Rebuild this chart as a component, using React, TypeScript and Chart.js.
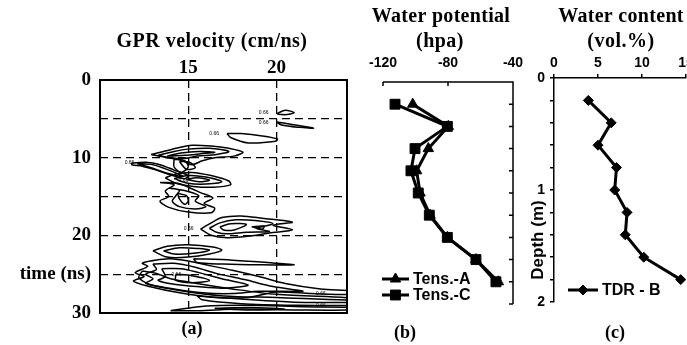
import React, { useEffect, useRef } from 'react';
import { Chart, registerables } from 'chart.js';

Chart.register(...registerables);

const W = 687;
const H = 345;

// ---------- Panel (a): GPR velocity contours ----------
const velocityTicks = [15, 20];
const timeTicks = [0, 5, 10, 15, 20, 25, 30];
const timeLabels = ['0', '', '10', '', '20', 'time (ns)', '30'];

// contour loops: [velocity (cm/ns), time (ns)]
const loopTop1 = [[20.05, 4.3], [20.5, 3.9], [21.0, 4.2], [20.6, 4.45], [20.1, 4.4]];
const loopTop2 = [[20.0, 5.4], [20.8, 5.7], [22.1, 6.2], [21.3, 6.1], [20.3, 5.8]];
const loopTop3 = [[17.2, 6.9], [18.0, 6.9], [19.2, 7.2], [20.05, 7.6], [19.95, 7.9], [18.4, 8.1], [17.4, 7.4]];
const loopA1 = [[12.9, 9.6], [13.6, 9.2], [14.5, 8.7], [15.2, 8.4], [16.3, 8.5], [17.3, 8.8], [18.1, 9.3], [17.6, 9.8], [16.5, 10.0], [15.8, 10.4], [15.2, 10.9], [14.6, 10.3], [13.8, 10.0]];
const loopA2 = [[13.3, 9.7], [14.2, 9.2], [15.0, 8.9], [16.2, 8.8], [17.3, 9.2], [16.6, 9.6], [15.5, 9.8], [14.8, 10.1], [14.0, 10.0]];
const loopA3 = [[13.8, 9.8], [14.6, 9.4], [15.6, 9.2], [16.5, 9.3], [15.7, 9.5], [14.8, 9.7]];
const loopA4 = [[14.2, 10.2], [14.8, 10.4], [15.0, 11.2], [14.6, 11.9], [14.2, 11.2]];
const loopA5 = [[14.5, 10.5], [15.1, 10.6], [15.4, 11.3], [14.9, 11.5]];
const loopB1 = [[11.8, 10.7], [12.6, 10.6], [13.4, 10.9], [14.2, 11.6], [15.0, 12.3], [14.8, 12.7], [14.0, 12.2], [13.2, 11.6], [12.4, 11.1], [11.8, 10.9]];
const loopB2 = [[12.1, 10.75], [13.0, 10.9], [13.9, 11.6], [14.7, 12.4], [13.8, 12.0], [12.9, 11.3]];
const loopC1 = [[13.7, 12.6], [14.3, 12.1], [15.2, 11.9], [16.3, 12.3], [17.3, 13.0], [17.4, 13.5], [16.4, 13.8], [15.3, 13.7], [14.3, 13.3]];
const loopC2 = [[14.2, 12.7], [15.0, 12.3], [16.0, 12.5], [16.9, 13.1], [16.0, 13.4], [15.0, 13.3]];
const loopC3 = [[14.9, 12.8], [15.5, 12.6], [16.2, 12.9], [15.6, 13.1]];
const loopD1 = [[13.4, 13.2], [14.2, 13.5], [13.7, 14.3], [13.9, 15.0], [13.4, 15.6], [13.9, 16.4], [15.0, 17.0], [16.3, 17.1], [16.5, 16.5], [15.9, 15.9], [16.4, 15.2], [15.7, 14.5], [15.1, 13.9], [14.4, 13.3]];
const loopD2 = [[13.9, 13.9], [14.5, 14.2], [14.3, 14.9], [14.1, 15.6], [14.5, 16.3], [15.4, 16.6], [16.0, 16.3], [15.4, 15.6], [15.6, 14.9], [14.9, 14.3]];
const loopD3 = [[14.4, 14.6], [14.9, 14.9], [15.0, 15.6], [14.8, 16.0], [14.5, 15.3]];
const loopE1 = [[15.7, 19.2], [16.3, 18.4], [16.9, 17.7], [18.0, 17.5], [19.2, 17.8], [20.9, 18.3], [19.8, 18.7], [20.9, 19.3], [19.6, 19.7], [18.5, 20.1], [17.2, 20.3], [16.3, 20.0]];
const loopE2 = [[16.2, 19.1], [16.8, 18.4], [17.7, 18.0], [18.8, 18.1], [19.8, 18.5], [18.9, 19.1], [19.6, 19.5], [18.3, 19.6], [17.2, 19.8], [16.6, 19.6]];
const loopE3 = [[16.8, 18.9], [17.4, 18.5], [18.3, 18.6], [17.6, 19.3], [17.0, 19.3]];
const loopE4 = [[18.6, 18.9], [19.3, 18.8], [19.2, 19.2]];
const loopF1 = [[13.0, 22.0], [13.8, 21.4], [15.0, 21.2], [16.4, 21.5], [16.9, 21.9], [16.2, 22.4], [15.0, 22.8], [13.8, 22.8]];
const loopF2 = [[13.6, 22.0], [14.5, 21.6], [15.6, 21.7], [16.2, 21.9], [15.3, 22.3], [14.2, 22.4]];
const loopG0 = [[15.3, 23.0], [17.5, 23.2], [19.5, 23.5], [21.0, 23.8], [19.0, 23.8], [17.0, 23.7], [15.5, 23.5]];
const loopG1 = [[13.1, 23.2], [14.0, 23.0], [15.0, 23.3], [16.2, 23.9], [17.5, 24.5], [19.0, 25.3], [20.5, 26.2], [22.5, 26.9], [24.5, 27.2], [24.5, 27.6], [22.0, 27.5], [20.0, 27.3], [18.4, 28.0], [16.5, 28.0], [14.5, 27.4], [12.8, 26.6], [11.9, 25.9], [12.5, 25.3], [12.0, 24.8], [12.7, 24.0], [12.4, 23.6]];
const loopG2 = [[13.0, 23.7], [14.2, 23.6], [15.4, 24.1], [16.6, 24.9], [18.2, 25.7], [19.8, 26.6], [21.5, 27.2], [19.0, 27.2], [17.5, 27.5], [15.8, 27.4], [14.2, 26.9], [12.6, 26.2], [13.0, 25.6], [12.6, 25.0], [13.2, 24.4]];
const loopG3 = [[13.5, 24.3], [14.6, 24.3], [15.6, 24.8], [16.9, 25.6], [18.4, 26.4], [17.0, 26.8], [15.5, 26.6], [14.2, 26.3], [13.3, 25.8], [13.7, 25.3]];
const loopG4 = [[14.3, 25.0], [15.2, 25.2], [16.2, 25.8], [15.2, 26.1], [14.3, 25.8]];
const loopG5 = [[12.4, 24.6], [13.2, 24.9], [14.0, 25.6], [15.5, 26.2], [17.5, 26.9], [20.0, 27.6], [24.5, 28.1], [24.5, 28.35], [20.0, 28.0], [17.0, 27.8], [14.5, 27.1], [12.8, 26.3], [12.2, 25.4]];
const loopH1 = [[15.5, 27.8], [18.0, 28.2], [21.0, 28.6], [24.5, 28.7], [24.5, 29.0], [21.0, 29.0], [18.0, 28.8], [15.8, 28.3]];
const loopH2 = [[14.0, 29.7], [16.0, 29.1], [18.5, 29.0], [21.5, 29.2], [24.5, 29.3], [24.5, 29.6], [21.0, 29.6], [18.0, 29.5], [15.5, 29.7]];
const loopH3 = [[16.5, 29.4], [18.5, 29.3], [20.5, 29.5], [18.5, 29.6]];

const contourLoops = [
  loopTop1, loopTop2, loopTop3, loopA1, loopA2, loopA3, loopA4, loopA5, loopB1, loopB2,
  loopC1, loopC2, loopC3, loopD1, loopD2, loopD3, loopE1, loopE2, loopE3, loopE4,
  loopF1, loopF2, loopG0, loopG1, loopG2, loopG3, loopG4, loopG5, loopH1, loopH2, loopH3,
];
const contourLevelText = '0.66';
const contourLabelSpots = [[19.55, 4.25], [19.55, 5.5], [16.75, 6.95], [11.95, 10.6], [15.3, 19.1], [15.0, 12.95], [14.6, 25.0], [22.8, 27.55], [22.8, 29.05]];

// ---------- Panel (b): water potential ----------
const depthSteps = [0.2, 0.4, 0.6, 0.8, 1.0, 1.2, 1.4, 1.6, 1.8];
const tensA = [-101.7, -79.8, -92.1, -99.3, -97.2, -91.0, -80.4, -62.8, -49.0];
const tensC = [-112.6, -80.4, -100.3, -102.8, -98.3, -91.5, -80.4, -62.8, -50.5];
const potentialTicks = [-120, -80, -40];

// ---------- Panel (c): water content ----------
const tdrB = [3.9, 6.5, 5.0, 7.1, 6.9, 8.3, 8.1, 10.2, 14.4];
const contentTicks = [0, 5, 10, 15];
const depthTicks = [0, 0.2, 0.4, 0.6, 0.8, 1.0, 1.2, 1.4, 1.6, 1.8, 2.0];
const depthLabels = ['0', '', '', '', '', '1', '', '', '', '', '2'];

const SERIF = "'Liberation Serif', 'Times New Roman', serif";
const SANS = "'Liberation Sans', Arial, sans-serif";

type TextItem = { text: string; x: number; y: number; font: string; align?: CanvasTextAlign; rotate?: number; spacing?: string };

function textPlugin(id: string, items: TextItem[]) {
  return {
    id,
    afterDraw(chart: any) {
      const ctx = chart.ctx;
      items.forEach((it) => {
        ctx.save();
        ctx.font = it.font;
        (ctx as any).letterSpacing = it.spacing || '0px';
        ctx.fillStyle = '#000';
        ctx.textAlign = it.align || 'center';
        ctx.textBaseline = 'middle';
        ctx.translate(it.x, it.y);
        if (it.rotate) ctx.rotate(it.rotate);
        ctx.fillText(it.text, 0, 0);
        ctx.restore();
      });
    },
  };
}

const boxPlugin = {
  id: 'boxFrame',
  afterDraw(chart: any) {
    const { ctx, chartArea: a } = chart;
    ctx.save();
    ctx.strokeStyle = '#000';
    ctx.lineWidth = 2;
    ctx.setLineDash([]);
    ctx.strokeRect(a.left, a.top, a.right - a.left, a.bottom - a.top);
    ctx.restore();
  },
};

const contourLabelPlugin = {
  id: 'contourLabels',
  afterDatasetsDraw(chart: any) {
    const { ctx, scales } = chart;
    ctx.save();
    ctx.font = `5px ${SANS}`;
    ctx.fillStyle = '#000';
    ctx.textAlign = 'right';
    ctx.textBaseline = 'middle';
    contourLabelSpots.forEach(([v, t]) => {
      ctx.fillText(contourLevelText, scales.x.getPixelForValue(v), scales.y.getPixelForValue(t));
    });
    ctx.restore();
  },
};

function drawMarker(ctx: CanvasRenderingContext2D, style: string, x: number, y: number, r: number) {
  ctx.beginPath();
  if (style === 'triangle') {
    ctx.moveTo(x, y - r);
    ctx.lineTo(x + r * 0.866, y + r * 0.5);
    ctx.lineTo(x - r * 0.866, y + r * 0.5);
    ctx.closePath();
  } else if (style === 'rect') {
    const s = r * Math.SQRT1_2;
    ctx.rect(x - s, y - s, 2 * s, 2 * s);
  } else {
    ctx.moveTo(x, y - r);
    ctx.lineTo(x + r, y);
    ctx.lineTo(x, y + r);
    ctx.lineTo(x - r, y);
    ctx.closePath();
  }
  ctx.fill();
  ctx.stroke();
}

function legendPlugin(id: string, x0: number, x1: number, textX: number, rows: number[]) {
  return {
    id,
    afterDraw(chart: any) {
      const ctx = chart.ctx;
      chart.data.datasets.forEach((ds: any, i: number) => {
        const y = rows[i];
        ctx.save();
        ctx.strokeStyle = '#000';
        ctx.fillStyle = '#000';
        ctx.lineWidth = 3;
        ctx.beginPath();
        ctx.moveTo(x0, y);
        ctx.lineTo(x1, y);
        ctx.stroke();
        ctx.lineWidth = 1;
        drawMarker(ctx, ds.pointStyle, (x0 + x1) / 2, y, ds.pointRadius);
        ctx.font = `bold 16px ${SANS}`;
        ctx.textAlign = 'left';
        ctx.textBaseline = 'middle';
        ctx.fillText(ds.label, textX, y + 1);
        ctx.restore();
      });
    },
  };
}

const potentialAxesPlugin = {
  id: 'potentialAxes',
  afterDraw(chart: any) {
    const { ctx, chartArea: a, scales } = chart;
    ctx.save();
    ctx.strokeStyle = '#000';
    ctx.lineWidth = 1.5;
    ctx.beginPath();
    ctx.moveTo(a.left, a.top);
    ctx.lineTo(a.right, a.top);
    ctx.lineTo(a.right, a.bottom);
    potentialTicks.forEach((v) => {
      const x = scales.x.getPixelForValue(v);
      ctx.moveTo(x, a.top);
      ctx.lineTo(x, a.top + 4);
    });
    depthTicks.forEach((d) => {
      const y = scales.y.getPixelForValue(d);
      ctx.moveTo(a.right, y);
      ctx.lineTo(a.right - 4, y);
    });
    ctx.stroke();
    ctx.restore();
  },
};

const dashedGrid = {
  color: '#000',
  lineWidth: 1.3,
  drawTicks: false,
};

// plot-area edges (page pixels)
const A_LEFT = 100, A_RIGHT = 347, A_TOP = 80, A_BOTTOM = 313;
const B_LEFT = 383, B_RIGHT = 513, B_TOP = 82, B_BOTTOM = 304;
const C_LEFT = 554, C_RIGHT = 686, C_TOP = 78, C_BOTTOM = 302;

const fitTop = (h: number) => (s: any) => { s.height = h; s.paddingLeft = 0; s.paddingRight = 0; };
const fitLeft = (w: number) => (s: any) => { s.width = w; s.paddingTop = 0; s.paddingBottom = 0; };

export default function App() {
  const refA = useRef<HTMLCanvasElement>(null);
  const refB = useRef<HTMLCanvasElement>(null);
  const refC = useRef<HTMLCanvasElement>(null);

  useEffect(() => {
    const common = {
      responsive: false,
      animation: false as const,
      devicePixelRatio: 1,
      events: [] as any[],
    };
    const sansTick = { family: SANS, size: 14, weight: 'bold' };
    const serifTick = { family: SERIF, size: 19, weight: 'bold' };

    const chartA = new Chart(refA.current as HTMLCanvasElement, {
      type: 'scatter',
      data: {
        datasets: contourLoops.map((loop) => ({
          data: [...loop, loop[0]].map(([x, y]) => ({ x, y })),
          showLine: true,
          borderColor: '#000',
          borderWidth: 1.5,
          pointRadius: 0,
          tension: 0.3,
          fill: false,
        })),
      },
      options: {
        ...common,
        layout: { autoPadding: false, padding: { left: 0, top: 0, right: W - A_RIGHT, bottom: H - A_BOTTOM } },
        plugins: { legend: { display: false }, tooltip: { enabled: false } },
        scales: {
          x: {
            type: 'linear',
            position: 'top',
            min: 10,
            max: 24,
            afterBuildTicks: (s: any) => { s.ticks = velocityTicks.map((value) => ({ value })); },
            afterFit: fitTop(A_TOP),
            ticks: { color: '#000', font: serifTick, padding: 1, maxRotation: 0, autoSkip: false },
            grid: dashedGrid,
            border: { display: false, dash: [8, 5] },
          },
          y: {
            type: 'linear',
            position: 'left',
            reverse: true,
            min: 0,
            max: 30,
            afterBuildTicks: (s: any) => { s.ticks = timeTicks.map((value) => ({ value })); },
            afterFit: fitLeft(A_LEFT),
            ticks: {
              color: '#000',
              font: serifTick,
              padding: 9,
              autoSkip: false,
              callback: (v: any) => timeLabels[timeTicks.indexOf(Number(v))] ?? '',
            },
            grid: dashedGrid,
            border: { display: false, dash: [8, 5] },
          },
        },
      } as any,
      plugins: [
        boxPlugin,
        contourLabelPlugin,
        textPlugin('textsA', [
          { text: 'GPR velocity (cm/ns)', x: 212, y: 42, font: `bold 20px ${SERIF}`, spacing: '0.5px' },
          { text: '(a)', x: 192, y: 329, font: `bold 18px ${SERIF}` },
        ]),
      ],
    });

    const chartB = new Chart(refB.current as HTMLCanvasElement, {
      type: 'scatter',
      data: {
        datasets: [
          {
            label: 'Tens.-A',
            data: depthSteps.map((d, i) => ({ x: tensA[i], y: d })),
            showLine: true,
            borderColor: '#000',
            backgroundColor: '#000',
            borderWidth: 3,
            pointStyle: 'triangle',
            pointRadius: 6,
            pointBorderWidth: 1,
          },
          {
            label: 'Tens.-C',
            data: depthSteps.map((d, i) => ({ x: tensC[i], y: d })),
            showLine: true,
            borderColor: '#000',
            backgroundColor: '#000',
            borderWidth: 3,
            pointStyle: 'rect',
            pointRadius: 7,
            pointBorderWidth: 1,
          },
        ],
      },
      options: {
        ...common,
        layout: { autoPadding: false, padding: { left: B_LEFT, top: 0, right: W - B_RIGHT, bottom: H - B_BOTTOM } },
        plugins: { legend: { display: false }, tooltip: { enabled: false } },
        scales: {
          x: {
            type: 'linear',
            position: 'top',
            min: -120,
            max: -40,
            afterBuildTicks: (s: any) => { s.ticks = potentialTicks.map((value) => ({ value })); },
            afterFit: fitTop(B_TOP),
            ticks: { color: '#000', font: sansTick, padding: 10, maxRotation: 0, autoSkip: false },
            grid: { display: false, drawTicks: false },
            border: { display: false },
          },
          y: { type: 'linear', display: false, reverse: true, min: 0, max: 2 },
        },
      } as any,
      plugins: [
        potentialAxesPlugin,
        legendPlugin('legendB', 382, 409, 413, [279, 295]),
        textPlugin('textsB', [
          { text: 'Water potential', x: 441, y: 17, font: `bold 20px ${SERIF}`, spacing: '0.3px' },
          { text: '(hpa)', x: 440, y: 42, font: `bold 20px ${SERIF}`, spacing: '0.5px' },
          { text: '(b)', x: 405, y: 333, font: `bold 18px ${SERIF}` },
        ]),
      ],
    });

    const chartC = new Chart(refC.current as HTMLCanvasElement, {
      type: 'scatter',
      data: {
        datasets: [
          {
            label: 'TDR - B',
            data: depthSteps.map((d, i) => ({ x: tdrB[i], y: d })),
            showLine: true,
            borderColor: '#000',
            backgroundColor: '#000',
            borderWidth: 3,
            pointStyle: 'rectRot',
            pointRadius: 5,
            pointBorderWidth: 1,
          },
        ],
      },
      options: {
        ...common,
        layout: { autoPadding: false, padding: { left: 0, top: 0, right: W - C_RIGHT, bottom: H - C_BOTTOM } },
        plugins: { legend: { display: false }, tooltip: { enabled: false } },
        scales: {
          x: {
            type: 'linear',
            position: 'top',
            min: 0,
            max: 15,
            afterBuildTicks: (s: any) => { s.ticks = contentTicks.map((value) => ({ value })); },
            afterFit: fitTop(C_TOP),
            ticks: { color: '#000', font: sansTick, padding: 2, maxRotation: 0, autoSkip: false },
            grid: { display: true, drawOnChartArea: false, drawTicks: true, tickLength: 4, color: '#000', lineWidth: 1.5 },
            border: { display: true, color: '#000', width: 1.5 },
          },
          y: {
            type: 'linear',
            position: 'left',
            reverse: true,
            min: 0,
            max: 2,
            afterBuildTicks: (s: any) => { s.ticks = depthTicks.map((value) => ({ value })); },
            afterFit: fitLeft(C_LEFT),
            ticks: {
              color: '#000',
              font: sansTick,
              padding: 5,
              autoSkip: false,
              callback: (_v: any, i: number) => depthLabels[i] ?? '',
            },
            grid: { display: true, drawOnChartArea: false, drawTicks: true, tickLength: 4, color: '#000', lineWidth: 1.5 },
            border: { display: true, color: '#000', width: 1.5 },
          },
        },
      } as any,
      plugins: [
        legendPlugin('legendC', 568, 598, 602, [290]),
        textPlugin('textsC', [
          { text: 'Water content', x: 621, y: 17, font: `bold 20px ${SERIF}`, spacing: '0.3px' },
          { text: '(vol.%)', x: 621, y: 42, font: `bold 20px ${SERIF}`, spacing: '0.5px' },
          { text: 'Depth (m)', x: 538, y: 240, font: `bold 17px ${SANS}`, rotate: -Math.PI / 2 },
          { text: '(c)', x: 615, y: 333, font: `bold 18px ${SERIF}` },
        ]),
      ],
    });

    return () => {
      chartA.destroy();
      chartB.destroy();
      chartC.destroy();
    };
  }, []);

  const canvasStyle: React.CSSProperties = { position: 'absolute', left: 0, top: 0, width: W, height: H };

  return (
    <div style={{ position: 'absolute', left: 0, top: 0, width: W, height: H, background: '#fff', overflow: 'hidden' }}>
      <canvas ref={refA} width={W} height={H} style={canvasStyle} />
      <canvas ref={refB} width={W} height={H} style={canvasStyle} />
      <canvas ref={refC} width={W} height={H} style={canvasStyle} />
    </div>
  );
}
